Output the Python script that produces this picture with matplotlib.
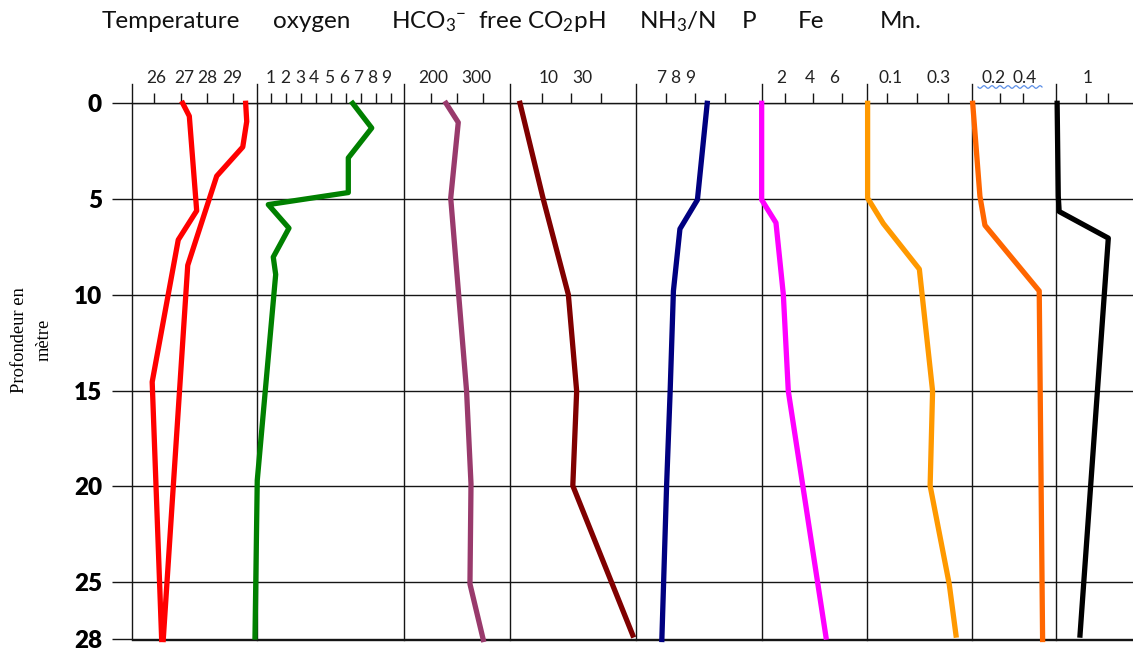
import matplotlib
matplotlib.use("Agg")
import matplotlib.pyplot as plt
import numpy as np
from matplotlib.lines import Line2D

plt.rcParams['font.family'] = ['Lato', 'DejaVu Sans']
plt.rcParams['mathtext.fontset'] = 'custom'
plt.rcParams['mathtext.rm'] = 'Lato'
plt.rcParams['mathtext.it'] = 'Lato:italic'
plt.rcParams['mathtext.bf'] = 'Lato:bold'

# ---------------- data ----------------
depth_ticks = [0, 5, 10, 15, 20, 25, 28]
depth_labels = ['0', '5', '10', '15', '20', '25', '28']

depth_temp_1 = [0, 0.67, 5.61, 7.13, 14.55, 28]
temp_1 = [27.08, 27.33, 27.61, 26.91, 25.92, 26.28]
depth_temp_2 = [0, 0.95, 2.28, 3.8, 8.46, 28]
temp_2 = [29.47, 29.51, 29.36, 28.37, 27.27, 26.34]

depth_oxygen = [0, 1.29, 2.85, 4.66, 5.29, 6.52, 8.03, 8.94, 19.69, 27.87]
oxygen = [6.43, 7.69, 6.14, 6.14, 0.84, 2.21, 1.17, 1.33, 0.11, -0.04]

depth_hco3 = [0, 1.0, 4.95, 15.03, 19.88, 25.1, 28]
hco3 = [159, 206, 177, 238, 255, 251, 302]

depth_co2 = [0, 5.04, 9.99, 15.03, 19.97, 27.77]
free_co2 = [2.7, 10.6, 19.0, 21.8, 20.5, 40.7]

depth_ph = [0, 5.04, 6.56, 9.8, 15.03, 19.97, 28]
ph = [8.40, 8.07, 7.48, 7.26, 7.15, 7.03, 6.87]

depth_nh3 = [0, 5.04, 6.24, 9.99, 15.03, 27.87]
nh3_n = [0.35, 0.35, 1.36, 1.88, 2.23, 4.89]

depth_p = [0, 4.95, 6.28, 8.66, 15.03, 19.97, 25.1, 27.77]
phosphorus = [0.038, 0.038, 0.089, 0.206, 0.249, 0.241, 0.303, 0.325]

depth_fe = [0, 4.85, 6.37, 9.8, 28]
iron = [-0.034, 0.028, 0.071, 0.537, 0.566]

depth_mn = [0, 4.85, 5.65, 7.04, 27.77]
manganese = [-0.26, -0.21, -0.17, 2.0, 0.75]

# scale ticks (marks) and their printed labels for each panel
temp_ticks = [26, 27, 28, 29]
temp_labels = ['26', '27', '28', '29']
temp_label_pos = [26.09, 27.13, 28.02, 28.96]
oxy_ticks = [1, 2, 3, 4, 5, 6, 7, 8, 9]
oxy_labels = ['1', '2', '3', '4', '5', '6', '7', '8', '9']
oxy_label_pos = [1.0, 1.95, 2.94, 3.89, 4.88, 5.85, 6.80, 7.75, 8.68]
hco3_ticks = [100, 200, 300]
hco3_labels = ['200', '300']
hco3_label_pos = [110, 274]
co2_ticks = [10, 20, 30]
co2_labels = ['10', '30']
co2_label_pos = [12.2, 23.6]
ph_ticks = [7, 8, 9]
ph_labels = ['7', '8', '9']
ph_label_pos = [6.84, 7.31, 7.82]
nh3_ticks = [2, 4, 6]
nh3_labels = ['2', '4', '6']
nh3_label_pos = [1.76, 3.76, 5.46]
p_ticks = [0.1, 0.2, 0.3]
p_labels = ['0.1', '0.3']
p_label_pos = [0.114, 0.268]
fe_ticks = [0.2, 0.4]
fe_labels = ['0.2', '0.4']
fe_label_pos = [0.142, 0.415]
mn_ticks = [1, 2]
mn_labels = ['1']
mn_label_pos = [1.10]

header_labels = ['Temperature', 'oxygen', r'HCO$_{\mathrm{3}}$$^{\mathrm{-}}$',
                 r'free CO$_{\mathrm{2}}$pH', r'NH$_{\mathrm{3}}$/N', 'P', 'Fe', 'Mn.']

# ---------------- layout / style ----------------
W, H = 1133, 652
fig = plt.figure(figsize=(W / 100, H / 100), dpi=100)

edges_px = [131.7, 256.7, 403.7, 510.0, 635.7, 761.7, 867.0, 972.0, 1056.0, 1133.0]
top_px, bot_px = 103.3, 639.5
xlims = [(25.142, 29.889), (0.073, 9.808), (-3.85, 405), (-0.67, 41.7),
         (5.988, 10.238), (0.353, 7.784), (0.036, 0.377), (-0.040, 0.681),
         (-0.31, 3.09)]

panels = [
    ([(depth_temp_1, temp_1, '#FF0000'), (depth_temp_2, temp_2, '#FF0000')],
     temp_ticks, temp_labels, temp_label_pos),
    ([(depth_oxygen, oxygen, '#008000')], oxy_ticks, oxy_labels, oxy_label_pos),
    ([(depth_hco3, hco3, '#993A6C')], hco3_ticks, hco3_labels, hco3_label_pos),
    ([(depth_co2, free_co2, '#800000')], co2_ticks, co2_labels, co2_label_pos),
    ([(depth_ph, ph, '#000080')], ph_ticks, ph_labels, ph_label_pos),
    ([(depth_nh3, nh3_n, '#FF00FF')], nh3_ticks, nh3_labels, nh3_label_pos),
    ([(depth_p, phosphorus, '#FF9900')], p_ticks, p_labels, p_label_pos),
    ([(depth_fe, iron, '#FF6600')], fe_ticks, fe_labels, fe_label_pos),
    ([(depth_mn, manganese, '#000000')], mn_ticks, mn_labels, mn_label_pos),
]

axh_px = bot_px - top_px
grid_col = '#151515'
lab_y = 1 + (top_px - 77.5) / axh_px

for i, (series, ticks, labs, lpos) in enumerate(panels):
    x0, x1 = edges_px[i], edges_px[i + 1]
    ax = fig.add_axes([x0 / W, 1 - bot_px / H, (x1 - x0) / W, axh_px / H])
    ax.set_facecolor('none')
    ax.set_ylim(28, 0)
    ax.set_xlim(*xlims[i])
    ax.set_yticks(depth_ticks)
    ax.grid(axis='y', color=grid_col, lw=1.0)
    ax.set_axisbelow(True)
    for s in ['top', 'bottom', 'left']:
        ax.spines[s].set_color(grid_col)
        ax.spines[s].set_linewidth(1.0)
    ax.spines['right'].set_visible(False)
    ax.spines['left'].set_bounds(-1, 28)
    ax.spines['left'].set_clip_on(False)
    ax.xaxis.tick_top()
    ax.set_xticks(ticks)
    ax.tick_params(axis='x', direction='out', length=7, width=1.0, color=grid_col,
                   labeltop=False, labelbottom=False, bottom=False)
    if i == 0:
        ax.set_yticklabels(depth_labels)
        ax.tick_params(axis='y', direction='out', length=14.4, width=1.0, color=grid_col,
                       pad=7, labelsize=17.5)
        for t in ax.get_yticklabels():
            t.set_fontweight('heavy')
    else:
        ax.tick_params(axis='y', length=0, labelleft=False)
    for lab, pos in zip(labs, lpos):
        ax.text(pos, lab_y, lab, transform=ax.get_xaxis_transform(),
                ha='center', va='center', fontsize=12.5, color='#222222')
    for d, v, c in series:
        ax.plot(v, d, color=c, lw=3.8, clip_on=False, solid_capstyle='projecting',
                solid_joinstyle='round', zorder=3)

# header row
header_x = [102, 273, 391, 478, 639, 742, 798, 880]
for lab, x in zip(header_labels, header_x):
    fig.text(x / W, 1 - 22 / H, lab, ha='left', va='center', fontsize=17.5, color='#111111')

# y axis title
fig.text(32 / W, 1 - 340 / H, 'Profondeur en\nmètre', rotation=90, ha='center', va='center',
         fontsize=13.3, family='Liberation Serif', linespacing=1.6, multialignment='center')

# spell-check style wavy underline under "0.2 0.4"
wx = np.linspace(978, 1042, 200)
wy = 87 + 1.3 * np.sin((wx - 978) / 64 * 2 * np.pi * 8)
fig.add_artist(Line2D(wx / W, 1 - wy / H, color='#5B8EE6', lw=0.9, transform=fig.transFigure))

fig.savefig('out.png', dpi=100)
